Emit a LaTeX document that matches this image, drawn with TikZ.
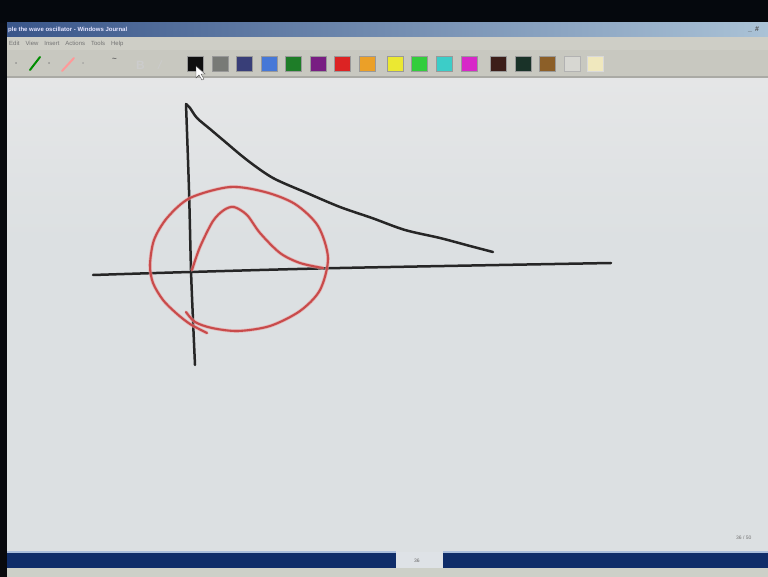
\documentclass[tikz,border=0pt]{standalone}
\usepackage{fontspec}
\setmainfont{Liberation Sans}
\begin{document}
\begin{tikzpicture}[x=1pt,y=-1pt,
  blackink/.style={draw=black!85,line width=2.5pt,line cap=round,line join=round},
  redink/.style={draw={rgb,255:red,200;green,75;blue,75},line width=2.1pt,line cap=round,line join=round},
  redhalo/.style={draw={rgb,255:red,235;green,160;blue,160},line width=3.6pt,line cap=round,line join=round,opacity=0.6},
  swatch/.style={minimum width=16pt,minimum height=15pt,inner sep=0pt,draw=black!40,line width=0.4pt},
  uitext/.style={font=\fontsize{6}{7}\selectfont,inner sep=0pt,anchor=west}]
\useasboundingbox (0,0) rectangle (768,577);
% canvas background
\shade[top color={rgb,255:red,229;green,230;blue,231},bottom color={rgb,255:red,220;green,224;blue,226}] (0,78) rectangle (768,240);
\fill[fill={rgb,255:red,220;green,224;blue,226}] (0,240) rectangle (768,552);
% left dark strip
\fill[fill={rgb,255:red,8;green,10;blue,14}] (0,0) rectangle (7,577);
% top black band
\fill[fill={rgb,255:red,5;green,8;blue,13}] (0,0) rectangle (768,23);
% title bar
\shade[left color={rgb,255:red,58;green,86;blue,138},right color={rgb,255:red,170;green,194;blue,214}] (7,23) rectangle (768,37);
\node[uitext,text=white!90!blue] (title) at (8,30) {\bfseries ple the wave oscillator - Windows Journal};
\node[uitext,font=\fontsize{7}{7}\selectfont\bfseries,text=black!70] (minbtn) at (748,30) {\_ \,\#};
% menu bar
\fill[fill={rgb,255:red,206;green,206;blue,198}] (7,37) rectangle (768,50);
\node[uitext,text=black!55] (menu) at (9,44) {Edit\quad View\quad Insert\quad Actions\quad Tools\quad Help};
% toolbar
\fill[fill={rgb,255:red,200;green,200;blue,192}] (7,50) rectangle (768,77);
\fill[fill={rgb,255:red,170;green,170;blue,165}] (7,76) rectangle (768,78);
% tool icons
\draw[draw=green!55!black,line width=2pt,line cap=round] (30,70) -- (40,57);
\node[uitext,text=black!50] (dd1) at (15,64) {\textbullet};
\node[uitext,text=black!50] (dd2) at (48,64) {\textbullet};
\draw[draw=red!40!white,line width=2pt,line cap=round] (62,71) -- (74,58);
\node[uitext,text=black!40] (dd3) at (82,64) {\textbullet};
\node[uitext,text=black!60,font=\fontsize{8}{8}\selectfont\bfseries] (ink) at (112,60) {\textasciitilde};
\node[uitext,text=black!20,font=\fontsize{12}{12}\selectfont\bfseries] (bold) at (136,65) {B};
\node[uitext,text=black!20,font=\fontsize{12}{12}\selectfont\itshape] (ital) at (158,65) {/};
% colour swatches
\node[swatch,fill={rgb,255:red,15;green,15;blue,15}] (c1) at (195,64) {};
\node[swatch,fill={rgb,255:red,120;green,122;blue,118}] (c2) at (220,64) {};
\node[swatch,fill={rgb,255:red,56;green,62;blue,120}] (c3) at (244,64) {};
\node[swatch,fill={rgb,255:red,70;green,120;blue,215}] (c4) at (269,64) {};
\node[swatch,fill={rgb,255:red,30;green,125;blue,40}] (c5) at (293,64) {};
\node[swatch,fill={rgb,255:red,120;green,30;blue,130}] (c6) at (318,64) {};
\node[swatch,fill={rgb,255:red,220;green,35;blue,35}] (c7) at (342,64) {};
\node[swatch,fill={rgb,255:red,235;green,160;blue,40}] (c8) at (367,64) {};
\node[swatch,fill={rgb,255:red,235;green,232;blue,50}] (c9) at (395,64) {};
\node[swatch,fill={rgb,255:red,50;green,205;blue,60}] (c10) at (419,64) {};
\node[swatch,fill={rgb,255:red,60;green,205;blue,200}] (c11) at (444,64) {};
\node[swatch,fill={rgb,255:red,215;green,40;blue,200}] (c12) at (469,64) {};
\node[swatch,fill={rgb,255:red,60;green,30;blue,25}] (c13) at (498,64) {};
\node[swatch,fill={rgb,255:red,25;green,50;blue,40}] (c14) at (523,64) {};
\node[swatch,fill={rgb,255:red,140;green,95;blue,40}] (c15) at (547,64) {};
\node[swatch,fill={rgb,255:red,215;green,215;blue,210},draw=black!30] (c16) at (572,64) {};
\node[swatch,fill={rgb,255:red,240;green,232;blue,190},draw=black!15] (c17) at (595,64) {};
% mouse pointer
\fill[fill=white,draw=black!70,line width=0.4pt] (196,66) -- (196,78) -- (199,75) -- (202,80) -- (204,79) -- (201,74) -- (205,74) -- cycle;
% bottom bar
\fill[fill={rgb,255:red,15;green,45;blue,105}] (7,552) rectangle (768,568);
\fill[fill={rgb,255:red,222;green,226;blue,230}] (396,552) rectangle (443,568);
\fill[fill={rgb,255:red,205;green,208;blue,200}] (7,568) rectangle (768,577);
\fill[fill={rgb,255:red,170;green,190;blue,220}] (7,551) rectangle (396,553);
\fill[fill={rgb,255:red,170;green,190;blue,220}] (443,551) rectangle (768,553);
\node[uitext,text=black!60,font=\fontsize{5}{5}\selectfont] (pg) at (414,561) {36};
\node[uitext,text=black!55,font=\fontsize{5}{5}\selectfont] (pages) at (736,538) {36 / 50};
% ---- ink drawing ----
% vertical axis
\draw[blackink] plot[smooth] coordinates {(186,104) (189,190) (191,270) (193,320) (195,365)};
% horizontal axis
\draw[blackink] plot[smooth] coordinates {(93,275) (190,272) (340,268) (611,263)};
% decaying curve
\draw[blackink] plot[smooth] coordinates {(186,104) (190,108) (197,118) (210,129) (223,140) (247,160) (273,178) (307,193) (340,207) (372,218) (405,230) (440,238) (470,246) (493,252)};
% red circle
\draw[redhalo] plot[smooth] coordinates {(207,333) (190,324) (176,313) (163,300) (153,283) (150,265) (154,240) (167,218) (190,198) (230,187) (265,192) (295,204) (318,226) (328,258) (320,290) (300,311) (270,326) (238,331) (212,328) (195,322) (186,312)};
\draw[redink] plot[smooth] coordinates {(207,333) (190,324) (176,313) (163,300) (153,283) (150,265) (154,240) (167,218) (190,198) (230,187) (265,192) (295,204) (318,226) (328,258) (320,290) (300,311) (270,326) (238,331) (212,328) (195,322) (186,312)};
% red hump
\draw[redhalo] plot[smooth] coordinates {(192,270) (200,247) (213,221) (224,210) (234,207) (247,215) (260,233) (280,253) (300,263) (323,268)};
\draw[redink] plot[smooth] coordinates {(192,270) (200,247) (213,221) (224,210) (234,207) (247,215) (260,233) (280,253) (300,263) (323,268)};
\end{tikzpicture}
\end{document}
